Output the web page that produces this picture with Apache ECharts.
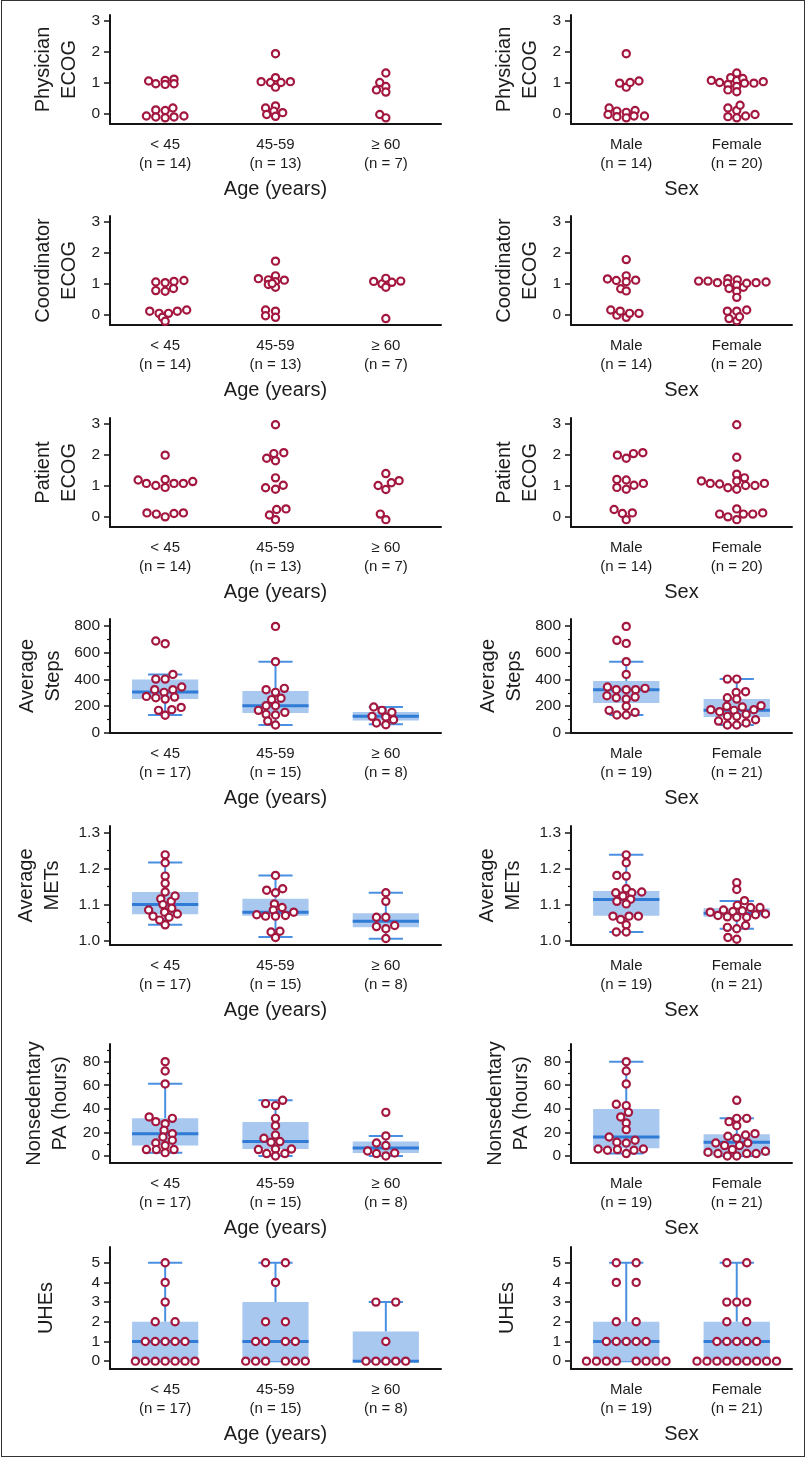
<!DOCTYPE html>
<html><head><meta charset="utf-8">
<script src="https://cdn.jsdelivr.net/npm/echarts@6/dist/echarts.min.js"></script>
<style>
html,body{margin:0;padding:0;background:#fff;}
#c{position:absolute;left:0;top:0;width:807px;height:1458px;}
#frame{position:absolute;left:1px;top:0;width:804px;height:1457px;border:1.5px solid #333;box-sizing:border-box;pointer-events:none;}
</style>
</head><body><div id="c"></div><div id="frame"></div>
<script>
// ---------------- categories ----------------
const ageCatsEcog = ['< 45\n(n = 14)', '45-59\n(n = 13)', '\u2265 60\n(n = 7)'];
const ageCatsAct  = ['< 45\n(n = 17)', '45-59\n(n = 15)', '\u2265 60\n(n = 8)'];
const sexCatsEcog = ['Male\n(n = 14)', 'Female\n(n = 20)'];
const sexCatsAct  = ['Male\n(n = 19)', 'Female\n(n = 21)'];

// ---------------- tick labels ----------------
const ecogTicks  = [0, 1, 2, 3];
const stepsTicks = [0, 200, 400, 600, 800];
const stepsMinor = [100, 300, 500, 700];
const metsTicks  = [1.0, 1.1, 1.2, 1.3];
const metsMinor  = [1.05, 1.15, 1.25];
const paTicks    = [0, 20, 40, 60, 80];
const paMinor    = [10, 30, 50, 70, 90];
const uheTicks   = [0, 1, 2, 3, 4, 5];

// ---------------- Physician ECOG ----------------
const physAgeVals = [
  [1.05, 0.96, 1.07, 0.94, 1.11, 0.96, -0.09, 0.11, -0.12, 0.09, -0.15, 0.17, -0.12, -0.09],
  [1.94, 1.03, 1.0, 1.16, 0.85, 1.0, 1.03, 0.17, -0.04, 0.24, 0.07, -0.10, 0.02],
  [1.31, 1.0, 0.87, 0.76, 0.69, -0.04, -0.15]
];
const physAgeJitter = [
  [-0.15, -0.085, 0, 0, 0.08, 0.08, -0.17, -0.085, -0.085, 0, 0, 0.07, 0.08, 0.17],
  [0, -0.13, -0.045, 0, 0, 0.05, 0.135, -0.09, -0.08, 0, -0.015, 0, 0.065],
  [0, -0.055, 0, -0.085, 0, -0.055, 0]
];
const physSexVals = [
  [1.94, 0.98, 0.85, 1.0, 1.05, 0.17, -0.04, 0.07, -0.11, 0.03, -0.15, 0.09, -0.09, -0.09],
  [1.07, 1.0, 0.94, 0.76, 1.16, 1.31, 1.07, 0.87, 0.70, 1.13, 0.98, 0.98, 1.03, 0.17, -0.11, 0.09, -0.15, 0.26, -0.09, -0.04]
];
const physSexJitter = [
  [0, -0.06, 0, 0.035, 0.115, -0.155, -0.165, -0.085, -0.085, 0, 0, 0.08, 0.07, 0.165],
  [-0.23, -0.155, -0.08, -0.08, -0.055, 0, 0, 0, 0, 0.055, 0.07, 0.155, 0.24, -0.08, -0.08, 0, 0, 0.03, 0.08, 0.165]
];

// ---------------- Coordinator ECOG ----------------
const coordAgeVals = [
  [1.05, 0.77, 1.03, 0.75, 1.07, 0.84, 1.10, 0.10, 0.03, -0.10, -0.23, 0.03, 0.10, 0.14],
  [1.73, 1.16, 1.12, 0.97, 1.25, 1.06, 0.88, 1.11, 1.0, 0.14, -0.05, 0.10, -0.10],
  [1.07, 0.99, 1.17, 0.88, 1.04, 1.08, -0.14]
];
const coordAgeJitter = [
  [-0.085, -0.085, 0, 0, 0.08, 0.075, 0.17, -0.14, -0.055, -0.025, 0, 0.03, 0.11, 0.195],
  [0, -0.155, -0.065, -0.065, 0, 0, 0, 0.08, -0.03, -0.09, -0.09, 0, 0],
  [-0.11, -0.035, 0, 0, 0.055, 0.135, 0]
];
const coordSexVals = [
  [1.78, 1.15, 1.10, 1.25, 1.06, 1.11, 0.83, 0.76, 0.14, -0.03, 0.10, -0.10, 0.03, 0.03],
  [1.08, 1.08, 1.03, 1.16, 1.01, 0.84, 1.12, 0.95, 0.75, 0.88, 1.01, 1.03, 1.05, 0.55, 0.10, -0.14, 0.10, -0.21, -0.08, 0.14]
];
const coordSexJitter = [
  [0, -0.17, -0.09, 0, 0, 0.085, -0.05, 0, -0.14, -0.085, -0.055, 0, 0.03, 0.115],
  [-0.345, -0.26, -0.175, -0.08, -0.085, -0.07, 0.005, 0, 0, 0.06, 0.09, 0.175, 0.265, 0, -0.085, -0.07, 0, 0, 0.025, 0.09]
];

// ---------------- Patient ECOG ----------------
const patAgeVals = [
  [1.99, 1.18, 1.07, 1.0, 1.20, 0.94, 1.07, 1.07, 1.13, 0.11, 0.07, -0.02, 0.09, 0.11],
  [2.98, 1.89, 2.04, 1.81, 2.07, 1.25, 0.93, 0.88, 1.01, 0.04, -0.11, 0.22, 0.24],
  [1.39, 1.0, 0.87, 1.09, 1.16, 0.07, -0.11]
];
const patAgeJitter = [
  [0, -0.245, -0.17, -0.085, 0, 0, 0.08, 0.165, 0.25, -0.165, -0.08, 0, 0.08, 0.165],
  [0, -0.08, -0.015, 0, 0.075, 0, -0.09, 0, 0.07, -0.055, 0, 0.01, 0.095],
  [0, -0.07, 0, 0.05, 0.12, -0.05, 0]
];
const patSexVals = [
  [1.99, 1.89, 2.04, 2.07, 1.20, 0.94, 1.18, 0.88, 1.01, 1.07, 0.22, 0.09, -0.11, 0.11],
  [2.98, 1.92, 1.15, 1.07, 1.05, 0.93, 1.37, 1.15, 0.88, 1.25, 1.0, 1.0, 1.07, 0.07, -0.02, 0.24, -0.11, 0.07, 0.07, 0.11]
];
const patSexJitter = [
  [-0.08, 0, 0.065, 0.15, -0.085, -0.085, 0, 0, 0.07, 0.155, -0.11, -0.035, 0, 0.055],
  [0, 0, -0.32, -0.24, -0.155, -0.08, 0, 0, 0, 0.07, 0.08, 0.165, 0.25, -0.155, -0.08, 0, 0, 0.06, 0.145, 0.235]
];

// ---------------- Average Steps ----------------
const stepsAgeVals = [
  [686, 666, 402, 402, 437, 323, 303, 323, 343, 273, 263, 253, 268, 169, 174, 191, 132],
  [795, 532, 323, 303, 333, 249, 259, 204, 204, 169, 154, 139, 134, 89, 60],
  [194, 169, 154, 124, 119, 99, 75, 62]
];
const stepsAgeJitter = [
  [-0.085, 0, -0.085, 0, 0.07, -0.095, -0.01, 0.07, 0.15, -0.17, -0.085, 0, 0.085, -0.06, 0.06, 0.145, 0],
  [0, 0, -0.085, 0, 0.08, -0.035, 0.05, -0.085, 0, -0.155, 0.085, -0.085, 0, -0.07, 0],
  [-0.11, -0.035, 0.055, -0.125, 0, 0.07, -0.085, 0]
];
// [lower whisker, Q1, median, Q3, upper whisker]
const stepsAgeBox = [[134, 253, 306, 398, 437], [60, 149, 204, 313, 532], [65, 94, 124, 157, 194]];
const stepsSexVals = [
  [795, 691, 668, 532, 437, 343, 323, 323, 323, 333, 278, 263, 253, 268, 199, 169, 134, 134, 154],
  [402, 402, 303, 308, 263, 253, 174, 159, 199, 169, 194, 174, 204, 89, 124, 124, 139, 60, 60, 75, 99]
];
const stepsSexJitter = [
  [0, -0.085, 0, 0, 0, -0.17, -0.09, 0, 0.085, 0.17, -0.175, -0.09, 0, 0.08, 0, -0.155, -0.085, 0, 0.08],
  [-0.085, 0, -0.005, 0.08, -0.085, 0, -0.235, -0.155, -0.09, -0.025, 0.05, 0.155, 0.22, -0.165, -0.085, 0, 0.085, -0.085, 0, 0.085, 0.17]
];
const stepsSexBox = [[134, 224, 323, 388, 532], [60, 119, 169, 253, 402]];

// ---------------- Average METs ----------------
const metsAgeVals = [
  [1.238, 1.216, 1.179, 1.159, 1.135, 1.116, 1.109, 1.124, 1.100, 1.090, 1.085, 1.079, 1.074, 1.068, 1.057, 1.065, 1.044],
  [1.181, 1.140, 1.133, 1.144, 1.102, 1.092, 1.085, 1.079, 1.072, 1.068, 1.068, 1.070, 1.024, 1.026, 1.009],
  [1.133, 1.109, 1.065, 1.065, 1.042, 1.039, 1.033, 1.006]
];
const metsAgeJitter = [
  [0, 0, 0, 0, 0, -0.04, 0.055, 0.09, -0.02, 0.06, -0.15, -0.005, 0.11, -0.11, -0.05, 0.035, 0],
  [0, -0.08, 0, 0.065, -0.01, 0.06, -0.02, 0.165, -0.17, -0.09, 0, 0.09, -0.04, 0.04, 0],
  [0, 0, -0.085, 0, 0.08, -0.085, 0, 0]
];
const metsAgeBox = [[1.044, 1.073, 1.100, 1.135, 1.217], [1.010, 1.069, 1.079, 1.116, 1.181], [1.005, 1.037, 1.054, 1.076, 1.133]];
const metsSexVals = [
  [1.238, 1.216, 1.181, 1.179, 1.144, 1.133, 1.124, 1.133, 1.135, 1.115, 1.109, 1.102, 1.068, 1.059, 1.068, 1.068, 1.044, 1.024, 1.024],
  [1.161, 1.142, 1.111, 1.098, 1.079, 1.085, 1.081, 1.083, 1.092, 1.092, 1.070, 1.066, 1.065, 1.065, 1.072, 1.074, 1.037, 1.033, 1.042, 1.009, 1.004]
];
const metsSexJitter = [
  [0, 0, -0.085, 0, 0, -0.095, -0.03, 0.05, 0.14, 0.04, -0.085, 0, -0.12, -0.05, 0.025, 0.11, 0, -0.09, 0],
  [0, 0, 0.07, 0.005, -0.24, -0.12, -0.035, 0.05, 0.125, 0.21, -0.17, -0.085, 0, 0.09, 0.17, 0.26, -0.085, 0, 0.08, -0.08, 0]
];
const metsSexBox = [[1.024, 1.069, 1.114, 1.138, 1.238], [1.033, 1.066, 1.076, 1.090, 1.110]];

// ---------------- Nonsedentary PA ----------------
const paAgeVals = [
  [80, 72.1, 61.1, 33.1, 29.1, 27.4, 31.9, 21.8, 18.9, 16.1, 13.3, 11.0, 8.8, 5.4, 5.4, 5.4, 2.8],
  [44.4, 42.7, 47.2, 31.9, 25.7, 17.8, 15.0, 11.6, 12.2, 5.4, 5.9, 5.9, 2.0, 2.0, 0],
  [37.0, 17.0, 11.0, 8.8, 4.2, 2.0, 0, 2.5]
];
const paAgeJitter = [
  [0, 0, 0, -0.145, -0.085, 0, 0.065, -0.01, 0.065, -0.02, 0.065, -0.085, 0, -0.17, -0.08, 0.08, 0],
  [-0.09, 0, 0.065, 0, 0, 0, -0.105, -0.04, 0.04, -0.155, 0, 0.145, -0.08, 0.085, 0],
  [0, 0, -0.085, 0, -0.165, -0.085, 0, 0.08]
];
const paAgeBox = [[2.8, 8.8, 18.9, 31.9, 61.3], [0, 5.9, 12.2, 28.8, 47.2], [0, 2.5, 6.8, 12.2, 17.0]];
const paSexVals = [
  [80, 72.1, 61.1, 43.8, 42.7, 37.0, 33.1, 28.0, 22.3, 16.1, 11.6, 11.0, 13.3, 5.9, 4.8, 5.4, 2.0, 4.8, 5.9],
  [47.2, 29.1, 31.9, 31.9, 25.7, 16.7, 15.0, 17.8, 18.9, 11.0, 8.8, 8.8, 11.0, 5.4, 3.1, 2.0, 0, 0, 2.0, 2.0, 4.0]
];
const paSexJitter = [
  [0, 0, 0, -0.09, 0, 0.02, -0.05, 0, 0, -0.155, -0.085, 0, 0.08, -0.255, -0.17, -0.08, 0, 0.07, 0.155],
  [0, -0.07, 0, 0.09, 0, -0.08, 0, 0.08, 0.165, -0.19, -0.11, 0.025, 0.1, -0.04, -0.26, -0.17, -0.085, 0, 0.09, 0.175, 0.26]
];
const paSexBox = [[2.0, 6.5, 16.1, 39.9, 80], [0, 0.3, 11.6, 18.4, 31.9]];

// ---------------- UHEs ----------------
const uheAgeVals = [
  [5, 4, 3, 2, 2, 1, 1, 1, 1, 1, 0, 0, 0, 0, 0, 0, 0],
  [5, 5, 4, 2, 2, 1, 1, 1, 1, 0, 0, 0, 0, 0, 0],
  [3, 3, 1, 0, 0, 0, 0, 0]
];
const uheAgeJitter = [
  [0, 0, 0, -0.09, 0.09, -0.18, -0.09, 0, 0.09, 0.18, -0.27, -0.18, -0.09, 0, 0.09, 0.18, 0.27],
  [-0.09, 0.09, 0, -0.09, 0.09, -0.18, -0.09, 0.09, 0.18, -0.27, -0.18, -0.09, 0.09, 0.18, 0.27],
  [-0.09, 0.09, 0, -0.18, -0.09, 0, 0.09, 0.18]
];
const uheAgeBox = [[0, 0, 1, 2, 5], [0, 0, 1, 3, 5], [0, 0, 0, 1.5, 3]];
const uheSexVals = [
  [5, 5, 4, 4, 2, 2, 1, 1, 1, 1, 1, 0, 0, 0, 0, 0, 0, 0, 0],
  [5, 5, 3, 3, 3, 2, 2, 1, 1, 1, 1, 1, 0, 0, 0, 0, 0, 0, 0, 0, 0]
];
const uheSexJitter = [
  [-0.09, 0.09, -0.09, 0.09, -0.09, 0.09, -0.18, -0.09, 0, 0.09, 0.18, -0.36, -0.27, -0.18, -0.09, 0.09, 0.18, 0.27, 0.36],
  [-0.09, 0.09, -0.09, 0, 0.09, -0.09, 0.09, -0.18, -0.09, 0, 0.09, 0.18, -0.36, -0.27, -0.18, -0.09, 0, 0.09, 0.18, 0.27, 0.36]
];
const uheSexBox = [[0, 0, 1, 2, 5], [0, 0, 1, 2, 5]];

// ---------------- layout (not data) ----------------
const FONT = '"Liberation Sans", Arial, sans-serif';
const rows = [
  {top: 15,   bottom: 124,  min: -0.35, max: 3.2,  ticks: ecogTicks,  minor: null,       nameGap: 28, fmt: v => String(v)},
  {top: 216,  bottom: 325,  min: -0.35, max: 3.2,  ticks: ecogTicks,  minor: null,       nameGap: 28, fmt: v => String(v)},
  {top: 418,  bottom: 527,  min: -0.35, max: 3.2,  ticks: ecogTicks,  minor: null,       nameGap: 28, fmt: v => String(v)},
  {top: 619,  bottom: 733,  min: 0,     max: 850,  ticks: stepsTicks, minor: stepsMinor, nameGap: 44, fmt: v => String(v)},
  {top: 826,  bottom: 945,  min: 0.988, max: 1.318,ticks: metsTicks,  minor: metsMinor,  nameGap: 45, fmt: v => Number(v).toFixed(1)},
  {top: 1044, bottom: 1163, min: -6,    max: 95,   ticks: paTicks,    minor: paMinor,    nameGap: 37, fmt: v => String(v)},
  {top: 1247, bottom: 1369, min: -0.4,  max: 5.8,  ticks: uheTicks,   minor: null,       nameGap: 51, fmt: v => String(v)}
];
const cols = [{left: 110, width: 331}, {left: 571, width: 221}];

const panels = [
  {row: 0, col: 0, cats: ageCatsEcog, xName: 'Age (years)', yName: 'Physician\nECOG',   vals: physAgeVals,  jit: physAgeJitter},
  {row: 0, col: 1, cats: sexCatsEcog, xName: 'Sex',         yName: 'Physician\nECOG',   vals: physSexVals,  jit: physSexJitter},
  {row: 1, col: 0, cats: ageCatsEcog, xName: 'Age (years)', yName: 'Coordinator\nECOG', vals: coordAgeVals, jit: coordAgeJitter},
  {row: 1, col: 1, cats: sexCatsEcog, xName: 'Sex',         yName: 'Coordinator\nECOG', vals: coordSexVals, jit: coordSexJitter},
  {row: 2, col: 0, cats: ageCatsEcog, xName: 'Age (years)', yName: 'Patient\nECOG',     vals: patAgeVals,   jit: patAgeJitter},
  {row: 2, col: 1, cats: sexCatsEcog, xName: 'Sex',         yName: 'Patient\nECOG',     vals: patSexVals,   jit: patSexJitter},
  {row: 3, col: 0, cats: ageCatsAct,  xName: 'Age (years)', yName: 'Average\nSteps',    vals: stepsAgeVals, jit: stepsAgeJitter, box: stepsAgeBox},
  {row: 3, col: 1, cats: sexCatsAct,  xName: 'Sex',         yName: 'Average\nSteps',    vals: stepsSexVals, jit: stepsSexJitter, box: stepsSexBox},
  {row: 4, col: 0, cats: ageCatsAct,  xName: 'Age (years)', yName: 'Average\nMETs',     vals: metsAgeVals,  jit: metsAgeJitter,  box: metsAgeBox},
  {row: 4, col: 1, cats: sexCatsAct,  xName: 'Sex',         yName: 'Average\nMETs',     vals: metsSexVals,  jit: metsSexJitter,  box: metsSexBox},
  {row: 5, col: 0, cats: ageCatsAct,  xName: 'Age (years)', yName: 'Nonsedentary\nPA (hours)', vals: paAgeVals, jit: paAgeJitter, box: paAgeBox},
  {row: 5, col: 1, cats: sexCatsAct,  xName: 'Sex',         yName: 'Nonsedentary\nPA (hours)', vals: paSexVals, jit: paSexJitter, box: paSexBox},
  {row: 6, col: 0, cats: ageCatsAct,  xName: 'Age (years)', yName: 'UHEs',              vals: uheAgeVals,   jit: uheAgeJitter,   box: uheAgeBox},
  {row: 6, col: 1, cats: sexCatsAct,  xName: 'Sex',         yName: 'UHEs',              vals: uheSexVals,   jit: uheSexJitter,   box: uheSexBox}
];

const AXIS = '#151515', TXT = '#1c1c1c';
const BOX_FILL = '#a8c8ef', WHISK = '#4a90e2', MED = '#2f7bd6';
const PT_STROKE = '#a3173f';

function boxRender(params, api) {
  const i = api.value(0);
  const lo = api.value(1), q1 = api.value(2), md = api.value(3), q3 = api.value(4), hi = api.value(5);
  const unit = api.size([1, 0])[0];
  const bw = unit * 0.6, cw = unit * 0.31;
  const cx = api.coord([i, md])[0];
  const y = v => api.coord([i, v])[1];
  const ls = {stroke: WHISK, lineWidth: 2};
  return {type: 'group', children: [
    {type: 'line', shape: {x1: cx, y1: y(q3), x2: cx, y2: y(hi)}, style: ls},
    {type: 'line', shape: {x1: cx, y1: y(q1), x2: cx, y2: y(lo)}, style: ls},
    {type: 'line', shape: {x1: cx - cw / 2, y1: y(hi), x2: cx + cw / 2, y2: y(hi)}, style: ls},
    {type: 'line', shape: {x1: cx - cw / 2, y1: y(lo), x2: cx + cw / 2, y2: y(lo)}, style: ls},
    {type: 'rect', shape: {x: cx - bw / 2, y: y(q3), width: bw, height: Math.max(y(q1) - y(q3), 0)}, style: {fill: BOX_FILL}},
    {type: 'line', shape: {x1: cx - bw / 2, y1: y(md), x2: cx + bw / 2, y2: y(md)}, style: {stroke: MED, lineWidth: 3}}
  ]};
}

const grid = [], xAxis = [], yAxis = [], series = [];
panels.forEach(p => {
  const R = rows[p.row], C = cols[p.col];
  const gi = grid.length;
  grid.push({left: C.left, width: C.width, top: R.top, height: R.bottom - R.top});
  xAxis.push({
    type: 'category', gridIndex: gi, data: p.cats, position: 'bottom',
    name: p.xName, nameLocation: 'middle', nameGap: 53,
    nameTextStyle: {fontSize: 20, lineHeight: 24, color: TXT, fontFamily: FONT},
    axisLine: {onZero: false, lineStyle: {color: AXIS, width: 2}},
    axisTick: {alignWithLabel: true, length: 6, lineStyle: {color: AXIS, width: 1.5}},
    axisLabel: {interval: 0, fontSize: 15, lineHeight: 19, margin: 11, color: TXT, fontFamily: FONT},
    splitLine: {show: false}
  });
  const xv = xAxis.length;
  xAxis.push({type: 'value', gridIndex: gi, show: false, min: -0.5, max: p.cats.length - 0.5});
  const yi = yAxis.length;
  yAxis.push({
    type: 'value', gridIndex: gi, position: 'left', min: R.min, max: R.max,
    name: p.yName, nameLocation: 'middle', nameRotate: 90, nameGap: R.nameGap,
    nameTextStyle: {fontSize: 20, lineHeight: 26, color: TXT, fontFamily: FONT, align: 'center'},
    axisLine: {show: true, onZero: false, lineStyle: {color: AXIS, width: 2}},
    axisTick: {show: true, length: 6, customValues: R.ticks, lineStyle: {color: AXIS, width: 1.5}},
    axisLabel: {customValues: R.ticks, fontSize: 15.5, margin: 10, color: TXT, fontFamily: FONT, formatter: R.fmt},
    splitLine: {show: false}
  });
  if (R.minor) {
    yAxis.push({
      type: 'value', gridIndex: gi, position: 'left', offset: 0, min: R.min, max: R.max,
      axisLine: {show: false, onZero: false},
      axisTick: {show: true, length: 3, customValues: R.minor, lineStyle: {color: AXIS, width: 1.2}},
      axisLabel: {show: false}, splitLine: {show: false}
    });
  }
  if (p.box) {
    series.push({
      type: 'custom', xAxisIndex: xv, yAxisIndex: yi, renderItem: boxRender, silent: true, z: 2,
      encode: {x: 0, y: [1, 2, 3, 4, 5]},
      data: p.box.map((b, i) => [i, b[0], b[1], b[2], b[3], b[4]])
    });
  }
  const pts = [];
  p.vals.forEach((g, gIdx) => g.forEach((v, j) => pts.push([gIdx + p.jit[gIdx][j], v])));
  series.push({
    type: 'scatter', xAxisIndex: xv, yAxisIndex: yi, z: 5, silent: true,
    symbol: 'circle', symbolSize: 7.2,
    itemStyle: {color: '#ffffff', borderColor: PT_STROKE, borderWidth: 2.2, opacity: 1},
    data: pts
  });
});

const chart = echarts.init(document.getElementById('c'), null, {renderer: 'canvas'});
chart.setOption({
  animation: false,
  backgroundColor: '#ffffff',
  textStyle: {fontFamily: FONT},
  grid, xAxis, yAxis, series
});
</script>
</body></html>
